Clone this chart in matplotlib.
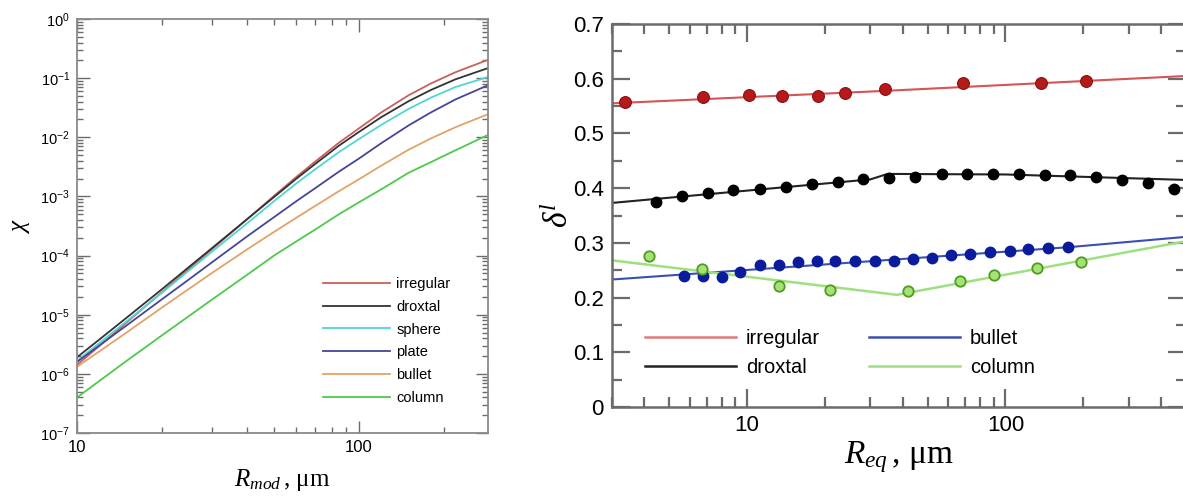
import numpy as np
import matplotlib
matplotlib.use("Agg")
import matplotlib.pyplot as plt
from matplotlib.ticker import LogLocator, NullFormatter, MultipleLocator
from matplotlib.lines import Line2D

plt.rcParams['font.family'] = ['Liberation Sans', 'DejaVu Sans']
plt.rcParams['mathtext.fontset'] = 'custom'
plt.rcParams['mathtext.rm'] = 'Liberation Serif'
plt.rcParams['mathtext.it'] = 'Liberation Serif:italic'
plt.rcParams['mathtext.sf'] = 'Liberation Sans'

# ---------------- left panel data (log10 of chi) ----------------
R_mod = [10, 12, 15, 20, 25, 30, 40, 50, 60, 70, 85, 100, 120, 150, 180, 220, 287]
log_chi_irregular = [-5.85, -5.53, -5.13, -4.62, -4.22, -3.90, -3.39, -2.99, -2.67, -2.41, -2.09,
                     -1.85, -1.58, -1.29, -1.09, -0.90, -0.69]
log_chi_droxtal = [-5.72, -5.42, -5.05, -4.57, -4.19, -3.88, -3.39, -3.01, -2.70, -2.45, -2.14,
                   -1.91, -1.66, -1.39, -1.20, -1.02, -0.83]
log_chi_sphere = [-5.78, -5.48, -5.11, -4.63, -4.25, -3.94, -3.46, -3.08, -2.78, -2.54, -2.25,
                  -2.03, -1.79, -1.52, -1.33, -1.15, -0.98]
log_chi_plate = [-5.80, -5.52, -5.18, -4.74, -4.40, -4.12, -3.68, -3.35, -3.08, -2.86, -2.58,
                 -2.36, -2.10, -1.80, -1.58, -1.36, -1.12]
log_chi_bullet = [-5.88, -5.62, -5.30, -4.88, -4.56, -4.30, -3.90, -3.60, -3.36, -3.16, -2.91,
                  -2.71, -2.48, -2.21, -2.02, -1.83, -1.61]
log_chi_column = [-6.40, -6.12, -5.78, -5.35, -5.02, -4.75, -4.33, -4.00, -3.76, -3.56, -3.30,
                  -3.10, -2.88, -2.60, -2.42, -2.22, -1.96]
left_labels = ['irregular', 'droxtal', 'sphere', 'plate', 'bullet', 'column']
left_colors = ['#c9605e', '#333333', '#4fd6d0', '#45459a', '#e3a267', '#4ec94e']
left_yexp = [-7, -6, -5, -4, -3, -2, -1, 0]
left_xticks = [10, 100]

# ---------------- right panel data ----------------
R_irr_pts = [3.37, 6.78, 10.2, 13.6, 18.8, 23.9, 34.2, 68.7, 136.7, 204.7]
d_irr_pts = [0.558, 0.566, 0.570, 0.569, 0.568, 0.574, 0.581, 0.592, 0.593, 0.595]
R_irr_line = [3, 35, 500]
d_irr_line = [0.555, 0.578, 0.605]

R_drx_pts = [4.46, 5.60, 7.03, 8.85, 11.2, 14.1, 17.8, 22.4, 28.2, 35.5, 44.6,
             56.6, 71.1, 89.5, 113, 142, 178, 224, 283, 357, 451]
d_drx_pts = [0.375, 0.385, 0.392, 0.396, 0.399, 0.403, 0.408, 0.412, 0.417, 0.419, 0.421,
             0.425, 0.426, 0.425, 0.426, 0.424, 0.424, 0.421, 0.415, 0.409, 0.399]
R_drx_line = [3, 30, 35, 100, 500]
d_drx_line = [0.373, 0.416, 0.426, 0.425, 0.415]

R_bul_pts = [5.70, 6.73, 8.0, 9.42, 11.2, 13.3, 15.7, 18.6, 21.9, 26.2, 31.2,
             37.1, 43.8, 52.2, 61.5, 73.1, 86.9, 104, 122, 146, 175]
d_bul_pts = [0.240, 0.240, 0.237, 0.247, 0.260, 0.260, 0.265, 0.266, 0.266, 0.266, 0.266,
             0.267, 0.270, 0.273, 0.277, 0.280, 0.283, 0.286, 0.288, 0.290, 0.292]
R_bul_line = [3, 175, 500]
d_bul_line = [0.233, 0.292, 0.311]

R_col_pts = [4.17, 6.68, 13.3, 21.0, 41.9, 66.8, 90.5, 133, 197]
d_col_pts = [0.276, 0.253, 0.221, 0.213, 0.212, 0.230, 0.241, 0.254, 0.265]
R_col_line = [3, 38, 500]
d_col_line = [0.268, 0.205, 0.303]

right_labels = ['irregular', 'droxtal', 'bullet', 'column']
right_yticks = [0, 0.1, 0.2, 0.3, 0.4, 0.5, 0.6, 0.7]
right_ytick_labels = ['0', '0.1', '0.2', '0.3', '0.4', '0.5', '0.6', '0.7']
right_xticks = [10, 100]

spine_c = '#6b6b6b'

fig = plt.figure(figsize=(11.83, 4.99), dpi=100)

# ---------------- left panel ----------------
ax1 = fig.add_axes([77/1183, 1-433/499, (488-77)/1183, (433-19)/499])
series = [log_chi_irregular, log_chi_droxtal, log_chi_sphere, log_chi_plate,
          log_chi_bullet, log_chi_column]
for vals, lab, col in zip(series, left_labels, left_colors):
    ax1.plot(R_mod, np.power(10.0, vals), color=col, lw=1.3, label=lab)
ax1.set_xscale('log')
ax1.set_yscale('log')
ax1.set_xlim(10, 287)
ax1.set_ylim(1e-7, 1)
ax1.set_yticks([10.0**e for e in left_yexp])
ax1.set_yticklabels([r'$\mathsf{10^{%d}}$' % e for e in left_yexp], fontsize=10.5)
ax1.yaxis.set_minor_locator(LogLocator(base=10, subs=np.arange(2, 10), numticks=20))
ax1.yaxis.set_minor_formatter(NullFormatter())
ax1.set_xticks(left_xticks)
ax1.set_xticklabels([str(v) for v in left_xticks], fontsize=12)
ax1.xaxis.set_minor_locator(LogLocator(base=10, subs=np.arange(2, 10), numticks=20))
ax1.xaxis.set_minor_formatter(NullFormatter())
ax1.tick_params(which='both', direction='in', top=True, right=True, color=spine_c, width=1.0)
ax1.tick_params(which='major', length=9, pad=5)
ax1.tick_params(which='minor', length=4.5)
for s in ax1.spines.values():
    s.set_color('#8a8a8a')
    s.set_linewidth(1.3)
ax1.set_xlabel(r'$R_{mod}\,$, μm', fontsize=18, family='Liberation Serif', labelpad=9)
ax1.set_ylabel(r'$\chi$', fontsize=18, labelpad=6)
leg1 = ax1.legend(loc='lower left', bbox_to_anchor=(0.598, 0.068), frameon=False, fontsize=10.5,
                  handlelength=4.6, handletextpad=0.45, labelspacing=0.6, borderaxespad=0,
                  borderpad=0)

# ---------------- right panel ----------------
ax2 = fig.add_axes([612/1183, 1-407/499, (1186-612)/1183, (407-24)/499])
ax2.plot(R_irr_line, d_irr_line, color='#d65454', lw=1.5)
ax2.plot(R_drx_line, d_drx_line, color='#222222', lw=1.5)
ax2.plot(R_bul_line, d_bul_line, color='#3a4fb0', lw=1.5)
ax2.plot(R_col_line, d_col_line, color='#9ee07e', lw=1.8)
ax2.plot(R_irr_pts, d_irr_pts, 'o', color='#b51a1a', ms=8.5, mec='#8a1010', mew=0.8)
ax2.plot(R_drx_pts, d_drx_pts, 'o', color='#000000', ms=7.5)
ax2.plot(R_bul_pts, d_bul_pts, 'o', color='#0a1c9c', ms=7.5)
ax2.plot(R_col_pts, d_col_pts, 'o', mfc='#a8e078', mec='#4a9e1a', ms=7.5, mew=1.3)
ax2.set_xscale('log')
ax2.set_xlim(3, 500)
ax2.set_ylim(0, 0.7)
ax2.set_yticks(right_yticks)
ax2.set_yticklabels(right_ytick_labels, fontsize=16)
ax2.yaxis.set_minor_locator(MultipleLocator(0.05))
ax2.set_xticks(right_xticks)
ax2.set_xticklabels([str(v) for v in right_xticks], fontsize=16)
ax2.xaxis.set_minor_locator(LogLocator(base=10, subs=np.arange(2, 10), numticks=20))
ax2.xaxis.set_minor_formatter(NullFormatter())
ax2.tick_params(which='both', direction='in', top=True, right=True, color=spine_c, width=1.6)
ax2.tick_params(which='major', length=13, pad=6)
ax2.tick_params(which='minor', length=7)
for s in ax2.spines.values():
    s.set_color(spine_c)
    s.set_linewidth(1.8)
ax2.set_xlabel(r'$R_{eq}\,$, μm', fontsize=24, family='Liberation Serif', labelpad=2)
ax2.set_ylabel(r'$\delta^{l}$', fontsize=24, labelpad=-2)
handles = [Line2D([], [], color='#e07a7a', lw=1.8),
           Line2D([], [], color='#222222', lw=1.8),
           Line2D([], [], color='#3a4fb0', lw=1.8),
           Line2D([], [], color='#9ee07e', lw=1.8)]
leg2 = ax2.legend(handles, right_labels, ncol=2, loc='lower left', bbox_to_anchor=(0.0575, 0.078),
                  frameon=False, fontsize=14.5, handlelength=4.5, handletextpad=0.5,
                  labelspacing=0.5, columnspacing=2.45, borderaxespad=0, borderpad=0)

fig.savefig('out.png', dpi=100)
